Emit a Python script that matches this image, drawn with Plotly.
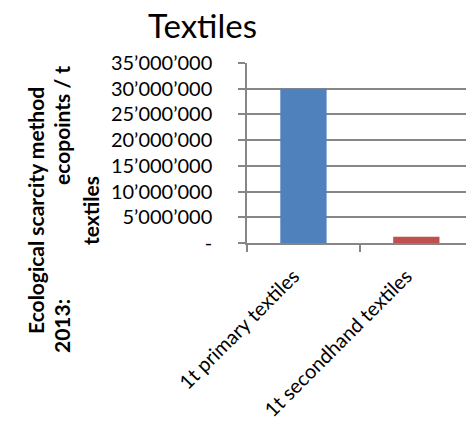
import plotly.graph_objects as go

categories = ["1t primary textiles", "1t secondhand textiles"]
values = [30_000_000, 1_200_000]
bar_colors = ["#4F81BD", "#C0504D"]
y_tick_vals = [0, 5_000_000, 10_000_000, 15_000_000, 20_000_000, 25_000_000, 30_000_000, 35_000_000]
y_tick_labels = ["-", "5’000’000", "10’000’000", "15’000’000", "20’000’000", "25’000’000", "30’000’000", "35’000’000"]

W, H = 466, 428
L, R, T, B = 247, 0, 63, 185
PW, PH = W - L - R, H - T - B

def px(x):
    return (x - L) / PW

def py(y):
    return 1 - (y - T) / PH

FONT = "Lato"
grid = "#868686"

fig = go.Figure()
fig.add_trace(go.Bar(x=categories, y=values, marker=dict(color=bar_colors, line=dict(width=0)), width=0.41))

fig.update_layout(
    width=W, height=H,
    margin=dict(l=L, r=R, t=T, b=B, pad=0),
    paper_bgcolor="white", plot_bgcolor="white",
    showlegend=False,
    font=dict(family=FONT, color="black"),
)
fig.update_xaxes(
    range=[-0.5, 1.44], type="category", tickson="boundaries",
    ticks="outside", ticklen=7, tickwidth=1.5, tickcolor=grid,
    showline=True, linecolor=grid, linewidth=1.5, showgrid=False,
    tickangle=-45, tickfont=dict(family=FONT, size=20, color="black"),
    ticklabelstandoff=12, ticklabelshift=-10,
)
fig.update_yaxes(
    range=[0, 35_000_000], tickvals=y_tick_vals, ticktext=y_tick_labels,
    ticks="outside", ticklen=7, tickwidth=1.5, tickcolor=grid,
    showline=True, linecolor=grid, linewidth=1.5,
    showgrid=True, gridcolor=grid, gridwidth=1.5, zeroline=False,
    tickfont=dict(family=FONT, size=20, color="black"),
    ticklabelstandoff=22,
)

ann = dict(xref="paper", yref="paper", showarrow=False, xanchor="center", yanchor="middle")
fig.add_annotation(text="Textiles", x=px(202), y=py(25), font=dict(family=FONT, size=33, color="black"), **ann)
tf = dict(family=FONT, size=21, color="black")
fig.add_annotation(text="<b>Ecological scarcity method</b>", x=px(35), y=py(211), textangle=-90, font=tf, **ann)
fig.add_annotation(text="<b>2013:</b>", x=px(61), y=py(326), textangle=-90, font=tf, **ann)
fig.add_annotation(text="<b>ecopoints / t</b>", x=px(61), y=py(126), textangle=-90, font=tf, **ann)
fig.add_annotation(text="<b>textiles</b>", x=px(90), y=py(211), textangle=-90, font=tf, **ann)

fig.write_html("out.html")
